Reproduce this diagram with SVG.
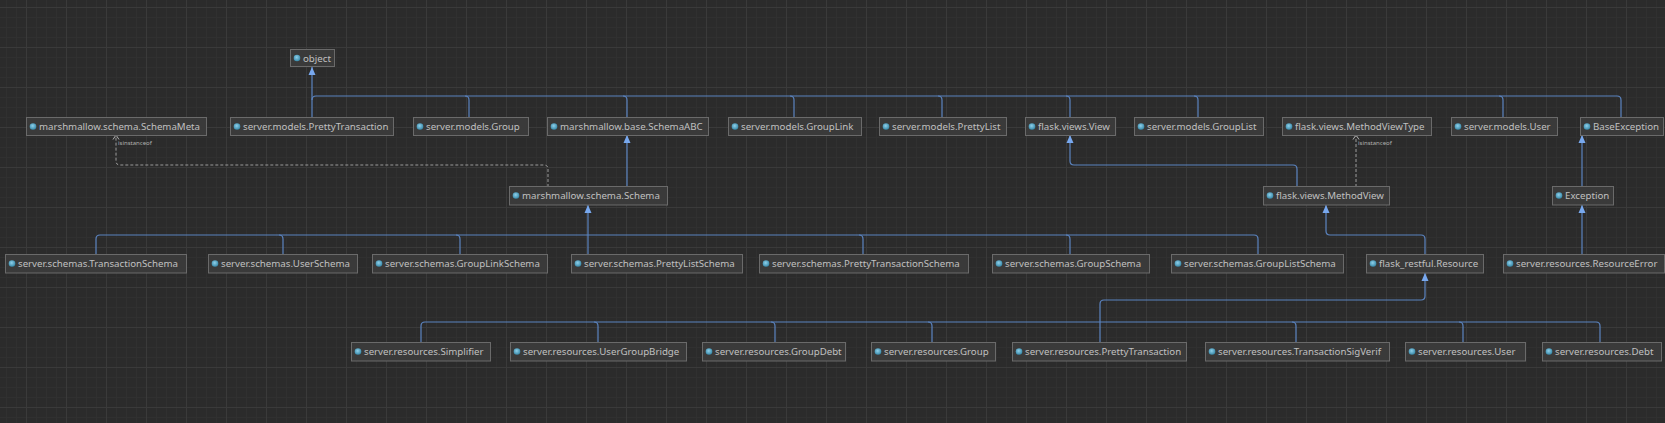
<svg xmlns="http://www.w3.org/2000/svg" width="1665" height="423" viewBox="0 0 1665 423">
<defs>
<pattern id="minor" patternUnits="userSpaceOnUse" x="6" y="7" width="10" height="10">
<path d="M0,0.5 H10 M0.5,0 V10" stroke="#303030" stroke-width="1" fill="none"/>
</pattern>
<pattern id="major" patternUnits="userSpaceOnUse" x="26" y="7" width="40" height="40">
<path d="M0,0.5 H40 M0.5,0 V40" stroke="#3a3a3a" stroke-width="1" fill="none"/>
</pattern>
<radialGradient id="dot" cx="0.45" cy="0.4" r="0.6">
<stop offset="0" stop-color="#8fd0ea"/>
<stop offset="1" stop-color="#3688a8"/>
</radialGradient>
<marker id="tri" viewBox="0 0 8 8" refX="8" refY="4" markerWidth="8" markerHeight="8" orient="auto" markerUnits="userSpaceOnUse">
<path d="M0,0.5 L8,4 L0,7.5 Z" fill="#78a8ee"/>
</marker>
<marker id="open" viewBox="0 0 8 8" refX="7.5" refY="4" markerWidth="8" markerHeight="8" orient="auto" markerUnits="userSpaceOnUse">
<path d="M3,1 L7.5,4 L3,7" fill="none" stroke="#b0b0b0" stroke-width="1"/>
</marker>
</defs>
<style>
.node rect { fill: #3a3a3a; stroke: #6a6a6a; stroke-width: 1; }
.node circle { fill: url(#dot); }
.node text { font-family: "Noto Sans", "DejaVu Sans", sans-serif; font-size: 9.7px; fill: #c0c0c0; }
.inh { fill: none; stroke: #5b84c0; stroke-width: 1.2; }
.inh-a { fill: none; stroke: #5b84c0; stroke-width: 1.2; marker-end: url(#tri); }
.dep { fill: none; stroke: #9a9a9a; stroke-width: 1; stroke-dasharray: 3,2; marker-end: url(#open); }
.lbl { font-family: "Noto Sans", "DejaVu Sans", sans-serif; font-size: 6px; fill: #b0b0b0; }
</style>
<rect width="1665" height="423" fill="#2b2b2b"/>
<rect width="1665" height="423" fill="url(#minor)"/>
<rect width="1665" height="423" fill="url(#major)"/>

<g id="connectors">
<path class="inh-a" d="M312,117 V67"/>
<path class="inh" d="M312,100 Q312,96 316,96 H1617 Q1621,96 1621,100 V117"/>
<path class="inh" d="M465,96 Q469,96 469,100 V117"/>
<path class="inh" d="M623,96 Q627,96 627,100 V117"/>
<path class="inh" d="M790,96 Q794,96 794,100 V117"/>
<path class="inh" d="M938,96 Q942,96 942,100 V117"/>
<path class="inh" d="M1066,96 Q1070,96 1070,100 V117"/>
<path class="inh" d="M1194,96 Q1198,96 1198,100 V117"/>
<path class="inh" d="M1499,96 Q1503,96 1503,100 V117"/>
<path class="inh-a" d="M627,187 V135"/>
<path class="dep" d="M548,187 V169 Q548,165 544,165 H120 Q116,165 116,161 V135"/>
<text class="lbl" x="118" y="145">isinstanceof</text>
<path class="inh-a" d="M588,255 V205"/>
<path class="inh" d="M96,255 V239 Q96,235 100,235 H1254 Q1258,235 1258,239 V255"/>
<path class="inh" d="M279,235 Q283,235 283,239 V255"/>
<path class="inh" d="M456,235 Q460,235 460,239 V255"/>
<path class="inh" d="M859,235 Q863,235 863,239 V255"/>
<path class="inh" d="M1066,235 Q1070,235 1070,239 V255"/>
<path class="inh-a" d="M1297,187 V169 Q1297,165 1293,165 H1074 Q1070,165 1070,161 V135"/>
<path class="dep" d="M1356,187 V135"/>
<text class="lbl" x="1358" y="145">isinstanceof</text>
<path class="inh-a" d="M1425,255 V239 Q1425,235 1421,235 H1330 Q1326,235 1326,231 V205"/>
<path class="inh-a" d="M1582,187 V135"/>
<path class="inh-a" d="M1582,255 V205"/>
<path class="inh-a" d="M1100,343 V304 Q1100,300 1104,300 H1421 Q1425,300 1425,296 V273"/>
<path class="inh" d="M421,343 V326 Q421,322 425,322 H1596 Q1600,322 1600,326 V343"/>
<path class="inh" d="M594,322 Q598,322 598,326 V343"/>
<path class="inh" d="M771,322 Q775,322 775,326 V343"/>
<path class="inh" d="M928,322 Q932,322 932,326 V343"/>
<path class="inh" d="M1292,322 Q1296,322 1296,326 V343"/>
<path class="inh" d="M1459,322 Q1463,322 1463,326 V343"/>
</g>

<g id="object" class="node"><rect x="290.5" y="49.5" width="44" height="17"/><circle cx="297" cy="58" r="3.3"/><text x="303" y="61.5">object</text></g>

<g id="SchemaMeta" class="node"><rect x="26.5" y="117.5" width="180" height="18"/><circle cx="33" cy="126.5" r="3.3"/><text x="39" y="130">marshmallow.schema.SchemaMeta</text></g>
<g id="models_PrettyTransaction" class="node"><rect x="230.5" y="117.5" width="163" height="18"/><circle cx="237" cy="126.5" r="3.3"/><text x="243" y="130">server.models.PrettyTransaction</text></g>
<g id="models_Group" class="node"><rect x="413.5" y="117.5" width="115" height="18"/><circle cx="420" cy="126.5" r="3.3"/><text x="426" y="130">server.models.Group</text></g>
<g id="SchemaABC" class="node"><rect x="547.5" y="117.5" width="161" height="18"/><circle cx="554" cy="126.5" r="3.3"/><text x="560" y="130">marshmallow.base.SchemaABC</text></g>
<g id="models_GroupLink" class="node"><rect x="728.5" y="117.5" width="133" height="18"/><circle cx="735" cy="126.5" r="3.3"/><text x="741" y="130">server.models.GroupLink</text></g>
<g id="models_PrettyList" class="node"><rect x="879.5" y="117.5" width="127" height="18"/><circle cx="886" cy="126.5" r="3.3"/><text x="892" y="130">server.models.PrettyList</text></g>
<g id="View" class="node"><rect x="1025.5" y="117.5" width="90" height="18"/><circle cx="1032" cy="126.5" r="3.3"/><text x="1038" y="130">flask.views.View</text></g>
<g id="models_GroupList" class="node"><rect x="1134.5" y="117.5" width="129" height="18"/><circle cx="1141" cy="126.5" r="3.3"/><text x="1147" y="130">server.models.GroupList</text></g>
<g id="MethodViewType" class="node"><rect x="1282.5" y="117.5" width="149" height="18"/><circle cx="1289" cy="126.5" r="3.3"/><text x="1295" y="130">flask.views.MethodViewType</text></g>
<g id="models_User" class="node"><rect x="1451.5" y="117.5" width="106" height="18"/><circle cx="1458" cy="126.5" r="3.3"/><text x="1464" y="130">server.models.User</text></g>
<g id="BaseException" class="node"><rect x="1580.5" y="117.5" width="83" height="18"/><circle cx="1587" cy="126.5" r="3.3"/><text x="1593" y="130">BaseException</text></g>

<g id="Schema" class="node"><rect x="509.5" y="186.5" width="158" height="18.5"/><circle cx="516" cy="195.5" r="3.3"/><text x="522" y="199">marshmallow.schema.Schema</text></g>
<g id="MethodView" class="node"><rect x="1263.5" y="186.5" width="126" height="18.5"/><circle cx="1270" cy="195.5" r="3.3"/><text x="1276" y="199">flask.views.MethodView</text></g>
<g id="Exception" class="node"><rect x="1552.5" y="186.5" width="61" height="18.5"/><circle cx="1559" cy="195.5" r="3.3"/><text x="1565" y="199">Exception</text></g>

<g id="TransactionSchema" class="node"><rect x="5.5" y="254.5" width="181" height="18.5"/><circle cx="12" cy="263.5" r="3.3"/><text x="18" y="267">server.schemas.TransactionSchema</text></g>
<g id="UserSchema" class="node"><rect x="208.5" y="254.5" width="149" height="18.5"/><circle cx="215" cy="263.5" r="3.3"/><text x="221" y="267">server.schemas.UserSchema</text></g>
<g id="GroupLinkSchema" class="node"><rect x="372.5" y="254.5" width="175" height="18.5"/><circle cx="379" cy="263.5" r="3.3"/><text x="385" y="267">server.schemas.GroupLinkSchema</text></g>
<g id="PrettyListSchema" class="node"><rect x="571.5" y="254.5" width="171" height="18.5"/><circle cx="578" cy="263.5" r="3.3"/><text x="584" y="267">server.schemas.PrettyListSchema</text></g>
<g id="PrettyTransactionSchema" class="node"><rect x="759.5" y="254.5" width="209" height="18.5"/><circle cx="766" cy="263.5" r="3.3"/><text x="772" y="267">server.schemas.PrettyTransactionSchema</text></g>
<g id="GroupSchema" class="node"><rect x="992.5" y="254.5" width="157" height="18.5"/><circle cx="999" cy="263.5" r="3.3"/><text x="1005" y="267">server.schemas.GroupSchema</text></g>
<g id="GroupListSchema" class="node"><rect x="1171.5" y="254.5" width="172" height="18.5"/><circle cx="1178" cy="263.5" r="3.3"/><text x="1184" y="267">server.schemas.GroupListSchema</text></g>
<g id="Resource" class="node"><rect x="1366.5" y="254.5" width="117" height="18.5"/><circle cx="1373" cy="263.5" r="3.3"/><text x="1379" y="267">flask_restful.Resource</text></g>
<g id="ResourceError" class="node"><rect x="1503.5" y="254.5" width="161" height="18.5"/><circle cx="1510" cy="263.5" r="3.3"/><text x="1516" y="267">server.resources.ResourceError</text></g>

<g id="Simplifier" class="node"><rect x="351.5" y="342.5" width="139" height="18.5"/><circle cx="358" cy="351.5" r="3.3"/><text x="364" y="355">server.resources.Simplifier</text></g>
<g id="UserGroupBridge" class="node"><rect x="510.5" y="342.5" width="176" height="18.5"/><circle cx="517" cy="351.5" r="3.3"/><text x="523" y="355">server.resources.UserGroupBridge</text></g>
<g id="GroupDebt" class="node"><rect x="702.5" y="342.5" width="143" height="18.5"/><circle cx="709" cy="351.5" r="3.3"/><text x="715" y="355">server.resources.GroupDebt</text></g>
<g id="res_Group" class="node"><rect x="871.5" y="342.5" width="124" height="18.5"/><circle cx="878" cy="351.5" r="3.3"/><text x="884" y="355">server.resources.Group</text></g>
<g id="res_PrettyTransaction" class="node"><rect x="1012.5" y="342.5" width="174" height="18.5"/><circle cx="1019" cy="351.5" r="3.3"/><text x="1025" y="355">server.resources.PrettyTransaction</text></g>
<g id="TransactionSigVerif" class="node"><rect x="1205.5" y="342.5" width="184" height="18.5"/><circle cx="1212" cy="351.5" r="3.3"/><text x="1218" y="355">server.resources.TransactionSigVerif</text></g>
<g id="res_User" class="node"><rect x="1405.5" y="342.5" width="120" height="18.5"/><circle cx="1412" cy="351.5" r="3.3"/><text x="1418" y="355">server.resources.User</text></g>
<g id="Debt" class="node"><rect x="1542.5" y="342.5" width="119" height="18.5"/><circle cx="1549" cy="351.5" r="3.3"/><text x="1555" y="355">server.resources.Debt</text></g>
</svg>
